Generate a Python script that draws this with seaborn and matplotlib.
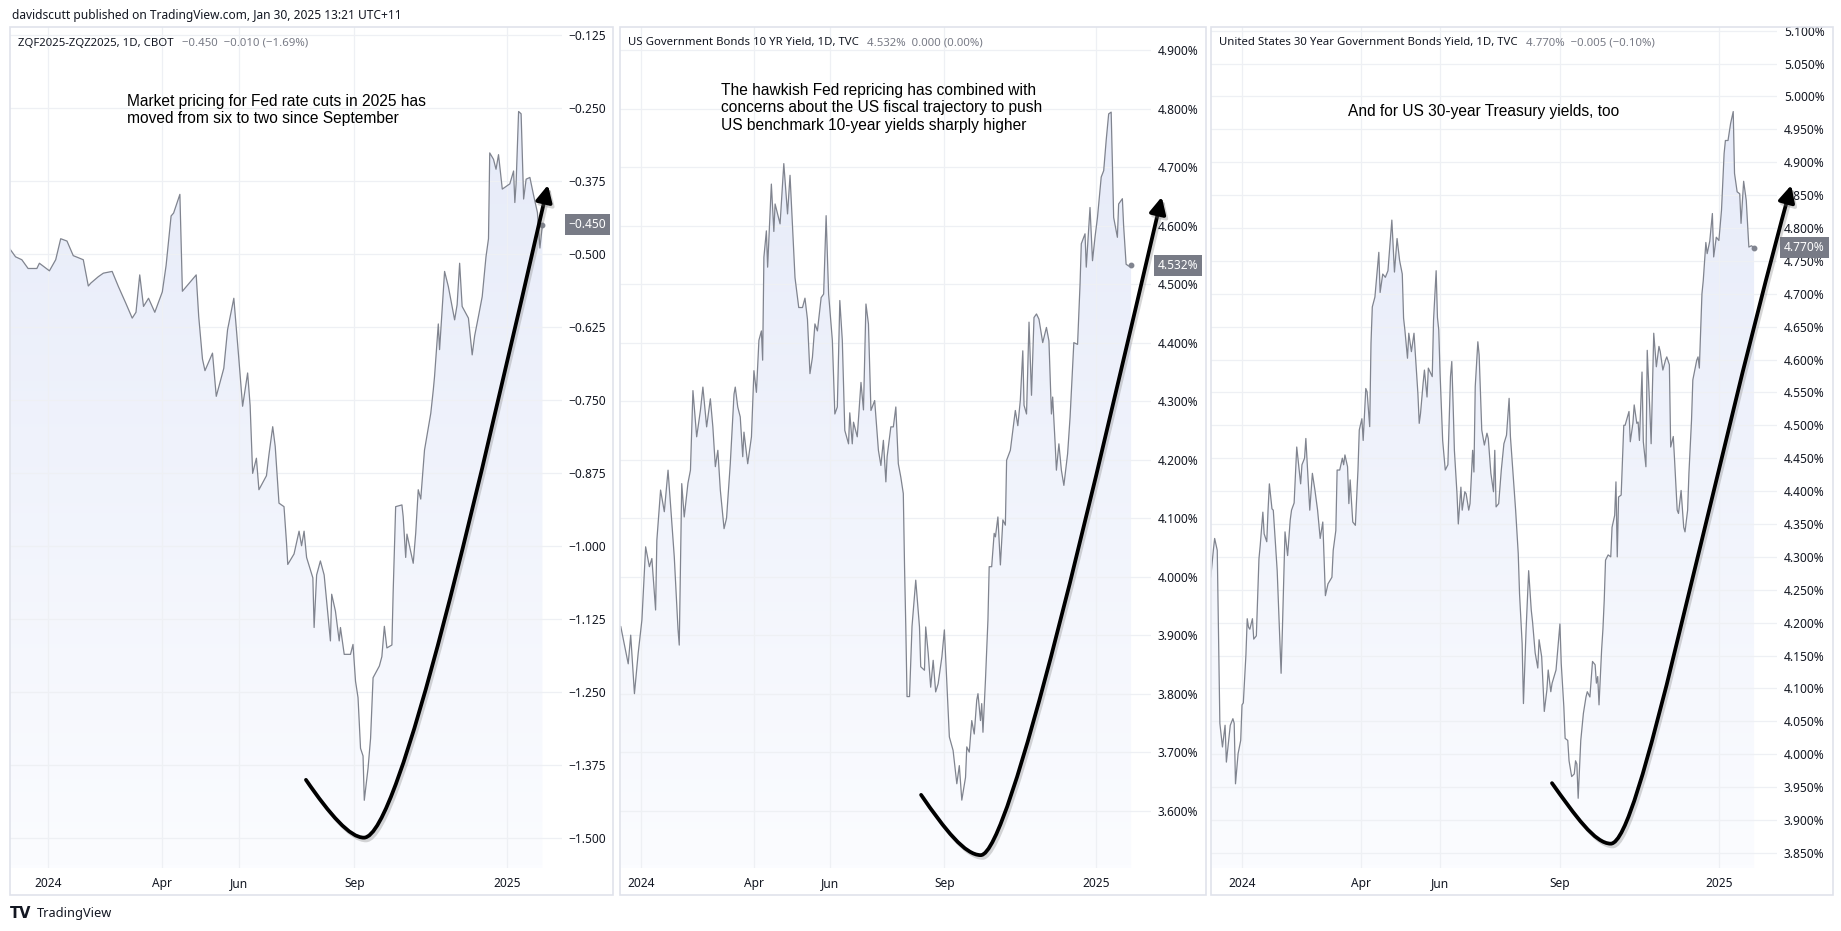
import numpy as np
import pandas as pd
import matplotlib
matplotlib.use("Agg")
import matplotlib.pyplot as plt
import seaborn as sns
from matplotlib.path import Path
from matplotlib.patches import FancyArrowPatch, Rectangle
from matplotlib.colors import LinearSegmentedColormap
import matplotlib.patheffects as pe
import matplotlib.transforms as mtrans

sns.set_theme(style="white")
plt.rcParams['font.family'] = ['Noto Sans', 'DejaVu Sans']

# ---- data (days counted from 2024-01-01) ----
base = pd.Timestamp("2024-01-01")

fed_days = [-31, -26, -21, -16, -9, -7, 1, 6, 10, 15, 20, 28, 32, 34, 40, 44, 51, 56, 62, 67,
            70, 73, 76, 80, 85, 91, 94, 98, 100, 105, 107, 114, 118, 120, 123, 125, 131, 134, 140, 143,
            148, 152, 155, 159, 161, 163, 166, 168, 174, 176, 179, 181, 184, 188, 190, 191, 196, 200, 202, 204,
            206, 211, 212, 214, 217, 220, 225, 226, 229, 232, 233, 236, 241, 243, 245, 247, 249, 251, 252, 255,
            257, 259, 264, 266, 268, 270, 274, 275, 277, 282, 283, 285, 286, 291, 293, 295, 297, 300, 305, 307,
            308, 311, 312, 316, 319, 324, 326, 328, 330, 335, 338, 340, 343, 346, 349, 351, 352, 355, 357, 359,
            362, 368, 371, 372, 373, 375, 377, 379, 381, 384, 387, 390, 392, 394]
fed_vals = [-0.490, -0.505, -0.510, -0.525, -0.525, -0.516, -0.529, -0.510, -0.474, -0.478, -0.503, -0.510, -0.555, -0.550, -0.539, -0.533, -0.530, -0.556, -0.585, -0.610,
            -0.600, -0.536, -0.590, -0.576, -0.600, -0.565, -0.520, -0.435, -0.430, -0.398, -0.564, -0.546, -0.536, -0.607, -0.680, -0.700, -0.670, -0.744, -0.696, -0.630,
            -0.576, -0.680, -0.761, -0.704, -0.760, -0.876, -0.850, -0.904, -0.880, -0.844, -0.796, -0.830, -0.927, -0.933, -0.995, -1.032, -1.014, -0.975, -1.000, -0.975,
            -1.020, -1.055, -1.140, -1.050, -1.026, -1.050, -1.163, -1.083, -1.112, -1.163, -1.140, -1.186, -1.186, -1.169, -1.232, -1.260, -1.347, -1.360, -1.436, -1.381,
            -1.330, -1.226, -1.206, -1.190, -1.138, -1.175, -1.170, -1.080, -0.933, -0.930, -0.950, -1.020, -0.980, -1.030, -0.978, -0.904, -0.920, -0.836, -0.773, -0.733,
            -0.710, -0.620, -0.664, -0.530, -0.556, -0.613, -0.587, -0.516, -0.590, -0.610, -0.673, -0.640, -0.607, -0.573, -0.505, -0.474, -0.327, -0.338, -0.355, -0.330,
            -0.389, -0.380, -0.358, -0.412, -0.380, -0.256, -0.260, -0.406, -0.372, -0.369, -0.400, -0.429, -0.490, -0.450]

ten_days = [-16, -10, -8, -5, -2, 1, 4, 7, 9, 12, 13, 16, 19, 22, 24, 27, 30, 31, 33, 35,
            38, 40, 42, 45, 48, 50, 53, 56, 58, 60, 62, 64, 67, 69, 72, 75, 76, 78, 80, 82,
            83, 86, 89, 91, 93, 95, 97, 98, 99, 101, 102, 105, 107, 108, 112, 115, 118, 120, 122, 124,
            127, 130, 132, 134, 136, 138, 140, 142, 145, 147, 149, 151, 154, 156, 158, 160, 162, 164, 167, 168,
            170, 171, 174, 177, 179, 181, 183, 185, 188, 191, 193, 195, 197, 198, 201, 203, 205, 207, 209, 211,
            212, 213, 214, 216, 218, 221, 224, 225, 228, 229, 231, 233, 235, 237, 239, 242, 244, 247, 248, 251,
            254, 256, 258, 261, 262, 264, 266, 268, 270, 271, 273, 274, 275, 277, 279, 280, 282, 284, 285, 287,
            289, 291, 293, 294, 297, 299, 301, 303, 305, 307, 308, 310, 312, 314, 316, 318, 320, 323, 326, 328,
            330, 331, 333, 334, 336, 338, 340, 343, 345, 348, 351, 353, 354, 357, 358, 361, 363, 365, 367, 370,
            372, 374, 376, 378, 380, 383, 384, 387, 388, 390, 392, 394]
ten_vals = [3.915, 3.851, 3.900, 3.800, 3.869, 3.926, 4.051, 4.017, 4.031, 3.943, 4.062, 4.148, 4.111, 4.182, 4.122, 4.034, 3.910, 3.883, 4.159, 4.102,
            4.160, 4.182, 4.318, 4.239, 4.284, 4.324, 4.256, 4.304, 4.256, 4.188, 4.216, 4.148, 4.082, 4.100, 4.193, 4.312, 4.324, 4.290, 4.273, 4.205,
            4.247, 4.193, 4.239, 4.352, 4.315, 4.404, 4.420, 4.370, 4.546, 4.591, 4.529, 4.671, 4.590, 4.637, 4.603, 4.706, 4.620, 4.686, 4.600, 4.511,
            4.460, 4.460, 4.476, 4.440, 4.347, 4.375, 4.432, 4.420, 4.477, 4.483, 4.617, 4.483, 4.404, 4.278, 4.290, 4.472, 4.404, 4.250, 4.227, 4.280,
            4.227, 4.264, 4.239, 4.332, 4.285, 4.466, 4.432, 4.284, 4.301, 4.216, 4.190, 4.233, 4.162, 4.205, 4.256, 4.256, 4.290, 4.193, 4.170, 4.142,
            4.017, 3.915, 3.795, 3.795, 3.915, 3.994, 3.914, 3.846, 3.840, 3.914, 3.869, 3.811, 3.857, 3.803, 3.817, 3.863, 3.909, 3.771, 3.726, 3.703,
            3.646, 3.677, 3.618, 3.657, 3.709, 3.700, 3.754, 3.731, 3.789, 3.800, 3.754, 3.783, 3.734, 3.823, 3.926, 4.017, 4.017, 4.074, 4.068, 4.102,
            4.020, 4.097, 4.088, 4.199, 4.216, 4.250, 4.284, 4.258, 4.301, 4.386, 4.293, 4.278, 4.435, 4.310, 4.443, 4.449, 4.440, 4.400, 4.426, 4.403,
            4.278, 4.307, 4.227, 4.182, 4.227, 4.182, 4.156, 4.210, 4.273, 4.400, 4.397, 4.500, 4.569, 4.586, 4.529, 4.631, 4.540, 4.580, 4.614, 4.683,
            4.694, 4.746, 4.791, 4.794, 4.614, 4.580, 4.637, 4.646, 4.600, 4.534, 4.531, 4.532]

thirty_days = [-24, -22, -21, -19, -18, -17, -15, -13, -12, -9, -7, -6, -5, -3, -1, 0, 1, 3, 4, 5,
               6, 8, 9, 11, 13, 14, 16, 17, 19, 20, 21, 23, 24, 27, 29, 30, 31, 33, 35, 37,
               38, 40, 42, 45, 46, 48, 49, 52, 54, 56, 58, 60, 62, 64, 66, 69, 70, 72, 73, 75,
               77, 78, 79, 81, 82, 83, 85, 87, 89, 90, 92, 93, 95, 96, 98, 99, 100, 102, 105, 106,
               108, 110, 112, 115, 117, 119, 121, 123, 124, 125, 127, 128, 130, 132, 133, 135, 136, 137, 139, 140,
               142, 143, 146, 147, 149, 150, 151, 152, 154, 156, 158, 160, 161, 162, 163, 165, 166, 168, 169, 171,
               172, 174, 175, 177, 178, 179, 181, 182, 184, 186, 188, 189, 191, 193, 194, 195, 197, 199, 201, 203,
               205, 206, 208, 210, 212, 213, 215, 216, 218, 220, 222, 223, 225, 227, 228, 230, 232, 234, 235, 237,
               238, 241, 242, 244, 245, 247, 248, 250, 251, 253, 255, 256, 257, 258, 260, 262, 264, 265, 267, 269,
               271, 272, 273, 274, 276, 277, 278, 279, 281, 283, 284, 286, 287, 288, 289, 291, 293, 294, 297, 298,
               300, 301, 303, 304, 305, 307, 308, 310, 311, 313, 314, 316, 318, 320, 321, 323, 325, 326, 328, 329,
               331, 332, 334, 335, 337, 339, 340, 342, 343, 345, 346, 349, 350, 351, 353, 354, 356, 357, 359, 361,
               362, 364, 366, 368, 370, 371, 373, 375, 377, 378, 380, 382, 383, 385, 387, 389, 391, 393]
thirty_vals = [4.269, 4.310, 4.328, 4.310, 4.180, 4.047, 4.011, 4.044, 3.988, 4.044, 4.054, 4.047, 3.955, 4.001, 4.021, 4.075, 4.078, 4.151, 4.206, 4.193,
               4.190, 4.206, 4.175, 4.180, 4.297, 4.318, 4.368, 4.335, 4.323, 4.372, 4.411, 4.373, 4.371, 4.279, 4.173, 4.123, 4.190, 4.338, 4.302, 4.356,
               4.371, 4.382, 4.467, 4.411, 4.440, 4.450, 4.480, 4.371, 4.427, 4.401, 4.371, 4.328, 4.353, 4.241, 4.259, 4.269, 4.310, 4.340, 4.432, 4.432,
               4.450, 4.440, 4.455, 4.437, 4.381, 4.417, 4.353, 4.348, 4.432, 4.493, 4.510, 4.477, 4.556, 4.551, 4.498, 4.625, 4.680, 4.695, 4.763, 4.702,
               4.730, 4.725, 4.735, 4.812, 4.733, 4.784, 4.750, 4.730, 4.663, 4.645, 4.602, 4.640, 4.612, 4.640, 4.609, 4.548, 4.503, 4.518, 4.564, 4.584,
               4.543, 4.587, 4.574, 4.660, 4.735, 4.664, 4.645, 4.579, 4.477, 4.432, 4.440, 4.574, 4.597, 4.533, 4.462, 4.396, 4.350, 4.406, 4.371, 4.399,
               4.396, 4.371, 4.381, 4.462, 4.429, 4.559, 4.627, 4.607, 4.493, 4.470, 4.488, 4.480, 4.427, 4.399, 4.462, 4.376, 4.381, 4.432, 4.472, 4.485,
               4.541, 4.483, 4.427, 4.371, 4.305, 4.244, 4.168, 4.077, 4.188, 4.279, 4.219, 4.201, 4.154, 4.131, 4.174, 4.148, 4.065, 4.098, 4.128, 4.095,
               4.108, 4.128, 4.151, 4.198, 4.138, 4.072, 4.024, 4.021, 3.990, 3.966, 3.970, 3.990, 3.985, 3.933, 4.021, 4.062, 4.087, 4.095, 4.087, 4.141,
               4.136, 4.108, 4.118, 4.075, 4.159, 4.190, 4.234, 4.295, 4.303, 4.300, 4.345, 4.363, 4.414, 4.300, 4.391, 4.394, 4.500, 4.500, 4.521, 4.475,
               4.503, 4.531, 4.503, 4.505, 4.477, 4.581, 4.475, 4.437, 4.614, 4.523, 4.472, 4.640, 4.589, 4.620, 4.612, 4.584, 4.599, 4.604, 4.592, 4.467,
               4.483, 4.447, 4.371, 4.366, 4.401, 4.345, 4.338, 4.371, 4.427, 4.508, 4.569, 4.599, 4.604, 4.587, 4.700, 4.720, 4.778, 4.761, 4.780, 4.822,
               4.756, 4.786, 4.781, 4.827, 4.913, 4.933, 4.933, 4.959, 4.977, 4.883, 4.855, 4.852, 4.807, 4.871, 4.842, 4.771, 4.773, 4.770]

month_dates = ["2024-01-01", "2024-04-01", "2024-06-01", "2024-09-01", "2025-01-01"]
month_labels = ["2024", "Apr", "Jun", "Sep", "2025"]

fed_ticks = [-0.125, -0.250, -0.375, -0.500, -0.625, -0.750, -0.875, -1.000, -1.125, -1.250, -1.375, -1.500]
ten_ticks = [3.6, 3.7, 3.8, 3.9, 4.0, 4.1, 4.2, 4.3, 4.4, 4.5, 4.6, 4.7, 4.8, 4.9]
thirty_ticks = [3.85, 3.90, 3.95, 4.00, 4.05, 4.10, 4.15, 4.20, 4.25, 4.30, 4.35, 4.40, 4.45, 4.50,
                4.55, 4.60, 4.65, 4.70, 4.75, 4.80, 4.85, 4.90, 4.95, 5.00, 5.05, 5.10]

titles = ["ZQF2025-ZQZ2025, 1D, CBOT",
          "US Government Bonds 10 YR Yield, 1D, TVC",
          "United States 30 Year Government Bonds Yield, 1D, TVC"]
title_values = ["\u22120.450  \u22120.010 (\u22121.69%)",
                "4.532%  0.000 (0.00%)",
                "4.770%  \u22120.005 (\u22120.10%)"]
notes = ["Market pricing for Fed rate cuts in 2025 has\nmoved from six to two since September",
         "The hawkish Fed repricing has combined with\nconcerns about the US fiscal trajectory to push\nUS benchmark 10-year yields sharply higher",
         "And for US 30-year Treasury yields, too"]

# hand-drawn swoosh arrows (day, value): start, ctrl, ctrl, bottom, ctrl, ctrl, tip
arrows = [
    [(205.5, -1.401), (224.7, -1.461), (240.6, -1.500), (251.7, -1.500), (280.5, -1.500), (344.2, -0.887), (398.4, -0.382)],
    [(225.3, 3.627), (244.6, 3.567), (260.7, 3.524), (273.2, 3.524), (296.9, 3.524), (365.2, 4.165), (418.6, 4.649)],
    [(237.9, 3.956), (255.6, 3.907), (270.9, 3.864), (283.0, 3.864), (305.4, 3.864), (351.5, 4.356), (421.5, 4.865)],
]

# ---- layout (pixels) ----
W, H = 1841, 931
TEXT = "#131722"
GREY = "#787B86"
LINE = "#80848F"
GRID = "#EEF0F4"
FRAME = "#E0E3EB"

panels = [
    dict(plot=(9.9, 26.7, 561.5, 868), frame=(9.5, 26.7, 613, 895), xlim=(-30.5, 409.2), ylim=(-1.552, -0.1108),
         fmt=lambda v: f"{v:.3f}".replace("-", "\u2212"), head=(18, 43), note=(127, 94)),
    dict(plot=(620, 26.7, 1151, 868), frame=(619.5, 26.7, 1206, 895), xlim=(-16.6, 410), ylim=(3.502, 4.940),
         fmt=lambda v: f"{v:.3f}%", head=(628, 43), note=(721, 83)),
    dict(plot=(1211, 26.7, 1777, 868), frame=(1211, 26.7, 1833, 895), xlim=(-23.8, 410.6), ylim=(3.827, 5.106),
         fmt=lambda v: f"{v:.3f}%", head=(1219, 43), note=(1348, 104)),
]
series = [(fed_days, fed_vals, fed_ticks), (ten_days, ten_vals, ten_ticks), (thirty_days, thirty_vals, thirty_ticks)]

month_days = [(pd.Timestamp(d) - base).days for d in month_dates]
cmap = LinearSegmentedColormap.from_list("tv_area", ["#E4E9F8", "#FBFCFF"])

fig = plt.figure(figsize=(W / 100, H / 100), dpi=100)
fig.patch.set_facecolor("white")


def fx(x):
    return x / W


def fy(y):
    return 1 - y / H


fig.text(fx(12), fy(15), "davidscutt published on TradingView.com, Jan 30, 2025 13:21 UTC+11",
         fontsize=8.6, color=TEXT, va="center", ha="left")

for p, (days, vals, ticks), title, tval, note, arr in zip(panels, series, titles, title_values, notes, arrows):
    l, t, r, b = p["frame"]
    fig.patches.append(Rectangle((fx(l), fy(b)), (r - l) / W, (b - t) / H, transform=fig.transFigure,
                                 fill=False, ec=FRAME, lw=1.2, zorder=0))
    l, t, r, b = p["plot"]
    ax = fig.add_axes([fx(l), fy(b), (r - l) / W, (b - t) / H])
    ax.set_facecolor("none")
    y0, y1 = p["ylim"]

    # gradient area under the line
    poly = ax.fill_between(days, vals, y0, color="none", lw=0)
    grad = np.linspace(0, 1, 256)[:, None]
    im = ax.imshow(grad, extent=[days[0], days[-1], y0, y1], aspect="auto", cmap=cmap, zorder=1)
    im.set_clip_path(poly.get_paths()[0], transform=ax.transData)

    sns.lineplot(x=days, y=vals, ax=ax, color=LINE, linewidth=0.9, estimator=None, sort=False, zorder=3)
    ax.plot(days[-1], vals[-1], "o", ms=3.2, color=LINE, zorder=4)

    ax.set_xlim(*p["xlim"])
    ax.set_ylim(y0, y1)
    ax.set_xticks(month_days)
    ax.set_xticklabels(month_labels)
    ax.set_yticks(ticks)
    ax.set_yticklabels([p["fmt"](v) for v in ticks])
    ax.yaxis.tick_right()
    ax.tick_params(axis="y", length=0, pad=5, labelsize=8.6, labelcolor=TEXT)
    ax.tick_params(axis="x", length=0, pad=6.5, labelsize=8.6, labelcolor=TEXT)
    ax.set_xlabel("")
    ax.set_ylabel("")
    ax.set_axisbelow(False)
    ax.grid(True, color=GRID, lw=0.9, zorder=2)
    for s in ax.spines.values():
        s.set_visible(False)

    # last value badge
    tr = mtrans.blended_transform_factory(ax.transAxes, ax.transData)
    ax.text(1.0 + 7 / (r - l), vals[-1], p["fmt"](vals[-1]), transform=tr, ha="left", va="center",
            fontsize=8.6, color="white", fontweight="bold", zorder=6, clip_on=False,
            bbox=dict(boxstyle="square,pad=0.32", fc=GREY, ec="none"))

    # swoosh arrow
    codes = [Path.MOVETO, Path.CURVE4, Path.CURVE4, Path.CURVE4, Path.CURVE4, Path.CURVE4, Path.CURVE4]
    arrow = FancyArrowPatch(path=Path(arr, codes), arrowstyle="-|>,head_length=0.9,head_width=0.45",
                            mutation_scale=11, lw=2.7, color="black", clip_on=False, zorder=7,
                            joinstyle="round", capstyle="round")
    arrow.set_path_effects([pe.SimpleLineShadow(offset=(1.5, -2.0), shadow_color="#777777", alpha=0.3),
                            pe.Normal()])
    ax.add_patch(arrow)

    # panel header + annotation
    hx, hy = p["head"]
    t1 = fig.text(fx(hx), fy(hy), title, fontsize=8.2, color=TEXT, va="center", ha="left")
    fig.add_artist(matplotlib.text.Annotation(tval, xy=(1, 0.5), xycoords=t1, xytext=(6, 0),
                                              textcoords="offset points", va="center", ha="left",
                                              fontsize=8.2, color=GREY))
    nx, ny = p["note"]
    fig.text(fx(nx), fy(ny), note, fontsize=11.2, color="black", va="top", ha="left",
             family=["Liberation Sans", "DejaVu Sans"], linespacing=1.2)

# footer logo
fig.text(fx(10), fy(913), "TV", fontsize=10.5, fontweight="black", color=TEXT, va="center", ha="left",
         family=["DejaVu Sans"])
fig.text(fx(37), fy(913), "TradingView", fontsize=9.2, color=TEXT, va="center", ha="left")

fig.savefig("out.png", dpi=100, facecolor="white")
